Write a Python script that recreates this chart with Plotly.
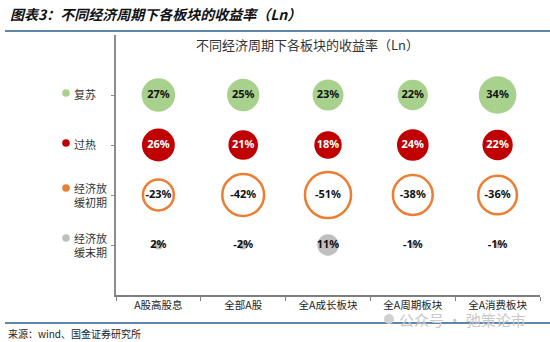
import numpy as np
import plotly.graph_objects as go

categories = ["A股高股息", "全部A股", "全A成长板块", "全A周期板块", "全A消费板块"]
phase_labels = ["复苏", "过热", "经济放<br>缓初期", "经济放<br>缓末期"]
phase_y = [4, 3, 2, 1]
recovery = [27, 25, 23, 22, 34]
overheat = [26, 21, 18, 24, 22]
early_slowdown = [-23, -42, -51, -38, -36]
late_slowdown = [2, -2, 11, -1, -1]

W, H = 550, 342
L, R, T, B = 116, 10, 35, 47
PW, PH = W - L - R, H - T - B

def px(x):
    return (x - L) / PW

def py(y):
    return (H - B - y) / PH

GREEN = "#A9D18E"
RED = "#C00000"
ORANGE = "#ED7D31"
GRAY = "#BFBFBF"
BLUE = "#2A5F8F"
CJK = "Noto Sans CJK SC"

series = [
    (recovery, 4, dict(color=GREEN, line=dict(width=0)), "#111111"),
    (overheat, 3, dict(color=RED, line=dict(width=0)), "#FFFFFF"),
    (early_slowdown, 2, dict(color="rgba(255,255,255,0)", line=dict(color=ORANGE, width=2.5)), "#111111"),
    (late_slowdown, 1, dict(color=GRAY, line=dict(width=0)), "#111111"),
]

fig = go.Figure()
for vals, yv, mk, tc in series:
    arr = np.array(vals, dtype=float)
    fig.add_trace(go.Scatter(
        x=categories, y=[yv] * len(categories),
        mode="markers+text",
        text=[f"{v}%" for v in vals],
        textposition="middle center",
        textfont=dict(family="Noto Sans, sans-serif", size=11, color=tc, weight="bold"),
        marker=dict(size=6.45 * np.sqrt(np.abs(arr)), sizemode="diameter", opacity=1, **mk),
        hoverinfo="skip", showlegend=False, cliponaxis=False,
    ))

annotations = []
shapes = []
dot_colors = [GREEN, RED, ORANGE, GRAY]
for lab, yv, c in zip(phase_labels, phase_y, dot_colors):
    two = "<br>" in lab
    annotations.append(dict(
        xref="paper", yref="y", x=px(72), y=yv, yshift=1 if not two else 0,
        text=lab, showarrow=False, xanchor="left", yanchor="middle", align="left",
        font=dict(family=CJK, size=11, color="#333333"),
    ))
    off = 7 if two else 2
    shapes.append(dict(
        type="circle", xref="paper", yref="y", xsizemode="pixel", ysizemode="pixel",
        xanchor=px(66), yanchor=yv, x0=-3.8, x1=3.8, y0=off - 3.8, y1=off + 3.8,
        fillcolor=c, line=dict(width=0),
    ))

# page heading, chart title, source, watermark
annotations += [
    dict(xref="paper", yref="paper", x=px(8), y=py(14), xanchor="left", yanchor="middle",
         text="<b><i>图表3：不同经济周期下各板块的收益率（Ln）</i></b>", showarrow=False,
         font=dict(family=CJK, size=14, color="#111111")),
    dict(xref="paper", yref="paper", x=px(307), y=py(45), xanchor="center", yanchor="middle",
         text="不同经济周期下各板块的收益率（Ln）", showarrow=False,
         font=dict(family=CJK, size=13, color="#333333")),
    dict(xref="paper", yref="paper", x=px(6), y=py(333), xanchor="left", yanchor="middle",
         text="来源：wind、国金证券研究所", showarrow=False,
         font=dict(family=CJK, size=10, color="#222222")),
    dict(xref="paper", yref="paper", x=px(397), y=py(319), xanchor="left", yanchor="middle",
         text="公众号 · 弛策论市", showarrow=False,
         font=dict(family=CJK, size=15, color="#C8C8C8")),
]
shapes += [
    dict(type="line", xref="paper", yref="paper", x0=px(5), x1=px(550), y0=py(31), y1=py(31),
         line=dict(color=BLUE, width=1.5)),
    dict(type="line", xref="paper", yref="paper", x0=px(5), x1=px(550), y0=py(323), y1=py(323),
         line=dict(color=BLUE, width=1.5)),
    dict(type="circle", xref="paper", yref="paper", x0=px(384), x1=px(394), y0=py(324), y1=py(314),
         fillcolor="#D0D0D0", line=dict(width=0)),
]

fig.update_layout(
    width=W, height=H, margin=dict(l=L, r=R, t=T, b=B),
    paper_bgcolor="white", plot_bgcolor="white",
    annotations=annotations, shapes=shapes,
    xaxis=dict(type="category", range=[-0.5, 4.5], tickson="boundaries",
               showline=True, linecolor="#7F7F7F", linewidth=1.5,
               ticks="outside", ticklen=4, tickcolor="#7F7F7F", showgrid=False, zeroline=False,
               tickfont=dict(family=CJK, size=10.5, color="#222222")),
    yaxis=dict(range=[0, 5.2], tickvals=phase_y, showticklabels=False,
               showline=True, linecolor="#8C8C8C", linewidth=1.5,
               ticks="outside", ticklen=3, tickcolor="#8C8C8C", showgrid=False, zeroline=False),
)

fig.write_html("out.html")
